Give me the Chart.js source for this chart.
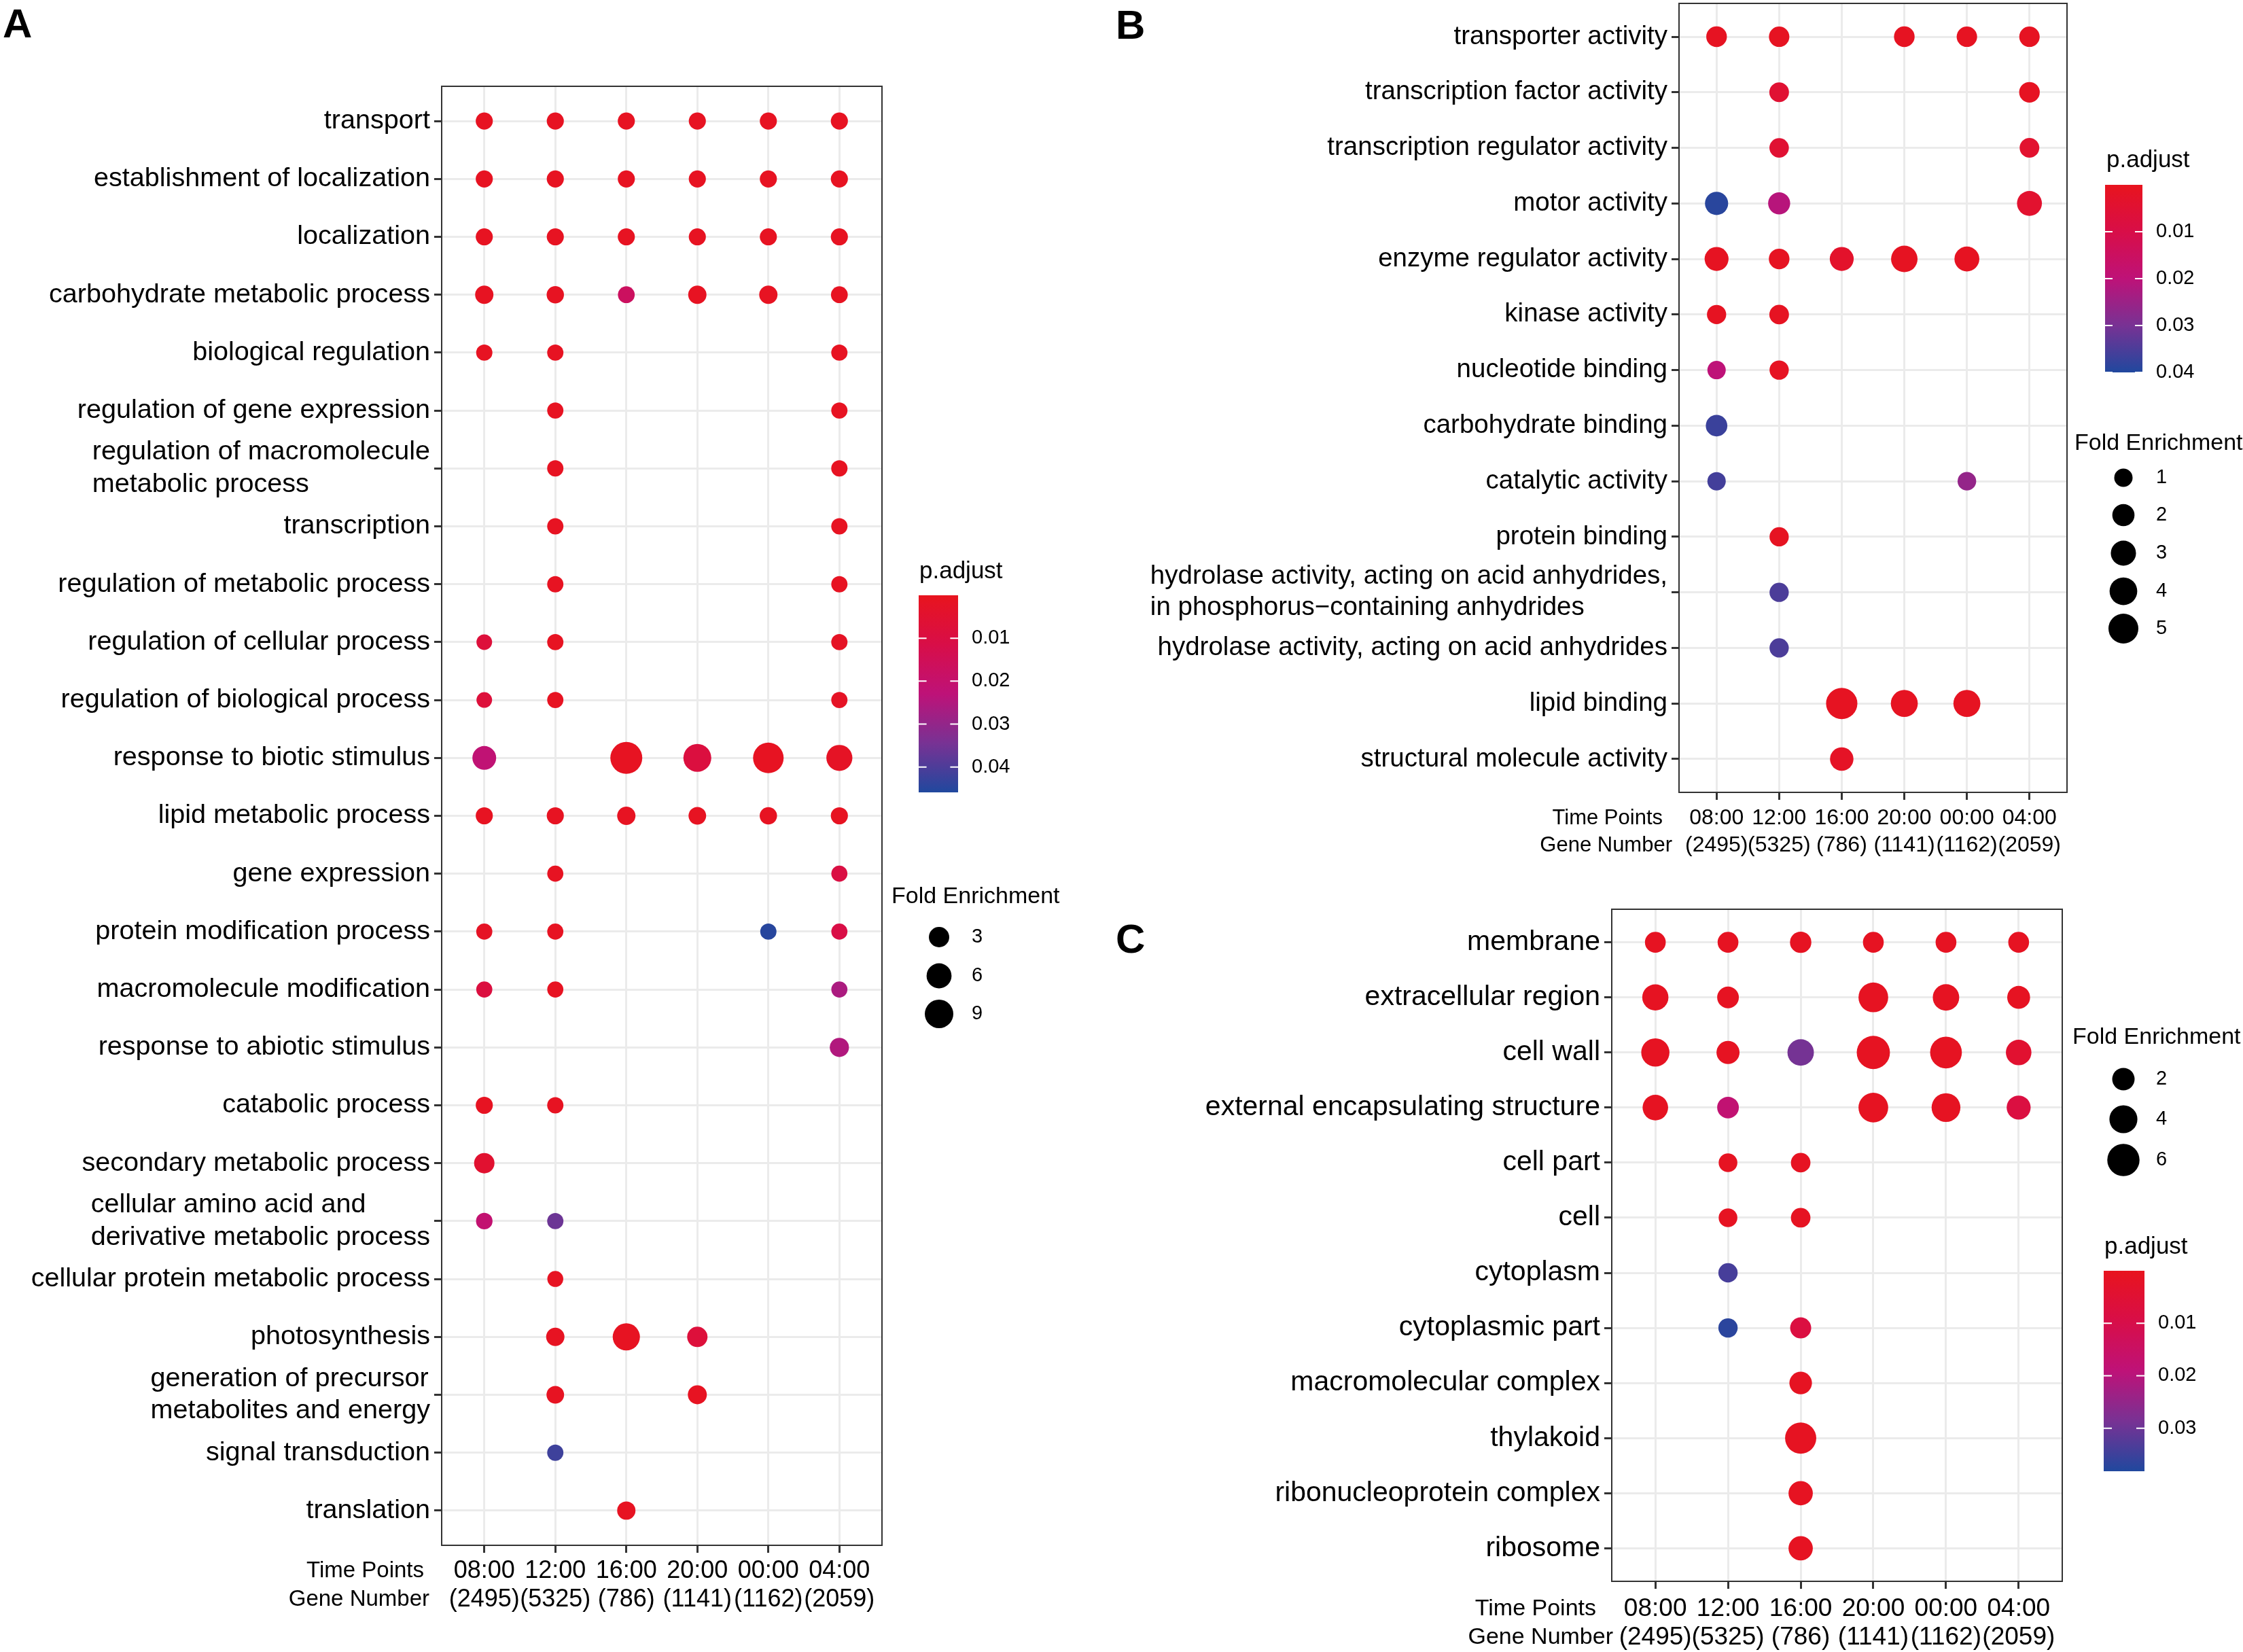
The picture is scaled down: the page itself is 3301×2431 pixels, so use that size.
<!DOCTYPE html>
<html>
<head>
<meta charset="utf-8">
<script src="https://cdn.jsdelivr.net/npm/chart.js@4.4.0/dist/chart.umd.min.js"></script>
<style>
  body { margin: 0; background: #fff; }
  #page { position: relative; width: 3301px; height: 2431px; background: #fff; overflow: hidden; }
  canvas { position: absolute; }
</style>
</head>
<body>
<div id="page">
  <canvas id="panelA" width="1640" height="2431" style="left:0;top:0"></canvas>
  <canvas id="panelB" width="1661" height="1290" style="left:1640px;top:0"></canvas>
  <canvas id="panelC" width="1661" height="1141" style="left:1640px;top:1290px"></canvas>
</div>
<script>
var FONT = '"Liberation Sans", Arial, Helvetica, sans-serif';
Chart.defaults.font.family = FONT;

var times = ['08:00', '12:00', '16:00', '20:00', '00:00', '04:00'];
var geneNumbers = [2495, 5325, 786, 1141, 1162, 2059];

// A - biological process
var termsA = [
  'transport', 'establishment of localization', 'localization', 'carbohydrate metabolic process',
  'biological regulation', 'regulation of gene expression', 'regulation of macromolecule\nmetabolic process',
  'transcription', 'regulation of metabolic process', 'regulation of cellular process',
  'regulation of biological process', 'response to biotic stimulus', 'lipid metabolic process',
  'gene expression', 'protein modification process', 'macromolecule modification',
  'response to abiotic stimulus', 'catabolic process', 'secondary metabolic process',
  'cellular amino acid and\nderivative metabolic process', 'cellular protein metabolic process',
  'photosynthesis', 'generation of precursor\nmetabolites and energy', 'signal transduction', 'translation'
];
var foldA = [
  [1.5, 1.5, 1.5, 1.5, 1.5, 1.5],
  [1.5, 1.5, 1.5, 1.5, 1.5, 1.5],
  [1.5, 1.5, 1.5, 1.5, 1.5, 1.5],
  [2.0, 1.6, 1.4, 2.0, 2.0, 1.4],
  [1.2, 1.2, null, null, null, 1.2],
  [null, 1.2, null, null, null, 1.2],
  [null, 1.2, null, null, null, 1.2],
  [null, 1.2, null, null, null, 1.2],
  [null, 1.2, null, null, null, 1.2],
  [1.0, 1.2, null, null, null, 1.2],
  [1.0, 1.2, null, null, null, 1.2],
  [5.1, null, 12.4, 8.4, 11.0, 6.8],
  [1.5, 1.5, 2.0, 1.7, 1.6, 1.5],
  [null, 1.15, null, null, null, 1.15],
  [1.15, 1.15, null, null, 1.2, 1.15],
  [1.15, 1.15, null, null, null, 1.15],
  [null, null, null, null, null, 2.4],
  [1.5, 1.2, null, null, null, null],
  [3.0, null, null, null, null, null],
  [1.3, 1.2, null, null, null, null],
  [null, 1.1, null, null, null, null],
  [null, 2.0, 7.8, 3.0, null, null],
  [null, 1.7, null, 2.3, null, null],
  [null, 1.2, null, null, null, null],
  [null, null, 2.0, null, null, null]
];
var padjA = [
  [0.001, 0.001, 0.001, 0.001, 0.001, 0.001],
  [0.001, 0.001, 0.001, 0.001, 0.001, 0.001],
  [0.001, 0.001, 0.001, 0.001, 0.001, 0.001],
  [0.001, 0.001, 0.017, 0.001, 0.001, 0.001],
  [0.001, 0.001, null, null, null, 0.001],
  [null, 0.001, null, null, null, 0.001],
  [null, 0.001, null, null, null, 0.001],
  [null, 0.001, null, null, null, 0.001],
  [null, 0.001, null, null, null, 0.001],
  [0.008, 0.001, null, null, null, 0.002],
  [0.008, 0.001, null, null, null, 0.002],
  [0.022, null, 0.001, 0.009, 0.001, 0.002],
  [0.001, 0.001, 0.001, 0.001, 0.001, 0.001],
  [null, 0.001, null, null, null, 0.010],
  [0.002, 0.001, null, null, 0.045, 0.011],
  [0.009, 0.001, null, null, null, 0.026],
  [null, null, null, null, null, 0.025],
  [0.001, 0.001, null, null, null, null],
  [0.005, null, null, null, null, null],
  [0.021, 0.036, null, null, null, null],
  [null, 0.001, null, null, null, null],
  [null, 0.001, 0.001, 0.008, null, null],
  [null, 0.001, null, 0.001, null, null],
  [null, 0.042, null, null, null, null],
  [null, null, 0.001, null, null, null]
];

// B - molecular function
var termsB = [
  'transporter activity', 'transcription factor activity', 'transcription regulator activity',
  'motor activity', 'enzyme regulator activity', 'kinase activity', 'nucleotide binding',
  'carbohydrate binding', 'catalytic activity', 'protein binding',
  'hydrolase activity, acting on acid anhydrides,\nin phosphorus\u2212containing anhydrides',
  'hydrolase activity, acting on acid anhydrides', 'lipid binding', 'structural molecule activity'
];
var foldB = [
  [1.55, 1.5, null, 1.55, 1.5, 1.5],
  [null, 1.3, null, null, null, 1.55],
  [null, 1.25, null, null, null, 1.3],
  [2.3, 1.95, null, null, null, 2.9],
  [2.55, 1.55, 2.55, 3.5, 2.9, null],
  [1.2, 1.3, null, null, null, null],
  [1.0, 1.2, null, null, null, null],
  [1.8, null, null, null, null, null],
  [1.0, null, null, null, 1.05, null],
  [null, 1.2, null, null, null, null],
  [null, 1.2, null, null, null, null],
  [null, 1.2, null, null, null, null],
  [null, null, 5.7, 3.7, 3.7, null],
  [null, null, 2.4, null, null, null]
];
var padjB = [
  [0.001, 0.001, null, 0.001, 0.001, 0.001],
  [null, 0.005, null, null, null, 0.001],
  [null, 0.005, null, null, null, 0.004],
  [0.039, 0.021, null, null, null, 0.004],
  [0.001, 0.001, 0.003, 0.001, 0.001, null],
  [0.001, 0.001, null, null, null, null],
  [0.020, 0.001, null, null, null, null],
  [0.037, null, null, null, null, null],
  [0.036, null, null, null, 0.026, null],
  [null, 0.001, null, null, null, null],
  [null, 0.035, null, null, null, null],
  [null, 0.035, null, null, null, null],
  [null, null, 0.001, 0.001, 0.001, null],
  [null, null, 0.002, null, null, null]
];

// C - cellular component
var termsC = [
  'membrane', 'extracellular region', 'cell wall', 'external encapsulating structure', 'cell part',
  'cell', 'cytoplasm', 'cytoplasmic part', 'macromolecular complex', 'thylakoid',
  'ribonucleoprotein complex', 'ribosome'
];
var foldC = [
  [1.54, 1.54, 1.7, 1.54, 1.54, 1.54],
  [3.27, 1.78, null, 4.75, 3.37, 2.14],
  [4.1, 2.2, 3.37, 6.5, 5.75, 3.04],
  [3.04, 1.78, null, 4.75, 4.35, 2.5],
  [null, 1.05, 1.24, null, null, null],
  [null, 1.05, 1.24, null, null, null],
  [null, 1.18, null, null, null, null],
  [null, 1.18, 1.62, null, null, null],
  [null, null, 2.04, null, null, null],
  [null, null, 5.45, null, null, null],
  [null, null, 2.6, null, null, null],
  [null, null, 2.6, null, null, null]
];
var padjC = [
  [0.001, 0.001, 0.001, 0.001, 0.001, 0.001],
  [0.001, 0.001, null, 0.001, 0.001, 0.001],
  [0.001, 0.001, 0.029, 0.001, 0.001, 0.004],
  [0.001, 0.018, null, 0.001, 0.001, 0.008],
  [null, 0.001, 0.001, null, null, null],
  [null, 0.001, 0.001, null, null, null],
  [null, 0.034, null, null, null, null],
  [null, 0.037, 0.008, null, null, null],
  [null, null, 0.001, null, null, null],
  [null, null, 0.001, null, null, null],
  [null, null, 0.001, null, null, null],
  [null, null, 0.001, null, null, null]
];

// red -> blue, like the ggplot gradient in the figure
var padjStops = [
  [0.00, [232, 20, 30]],
  [0.25, [216, 14, 72]],
  [0.50, [190, 18, 120]],
  [0.75, [120, 50, 148]],
  [1.00, [32, 72, 158]]
];
function padjColor(t) {
  t = Math.max(0, Math.min(1, t));
  for (var i = 1; i < padjStops.length; i++) {
    if (t <= padjStops[i][0]) {
      var a = padjStops[i - 1], b = padjStops[i];
      var f = (t - a[0]) / (b[0] - a[0]);
      var c = a[1].map(function (v, k) { return Math.round(v + (b[1][k] - v) * f); });
      return 'rgb(' + c.join(',') + ')';
    }
  }
  return 'rgb(32,72,158)';
}

function legendDecor(cfg) {
  return {
    id: 'decor' + cfg.letter,
    afterDraw: function (chart) {
      var ctx = chart.ctx, area = chart.chartArea, ys = chart.scales.y;
      ctx.save();
      // panel border
      ctx.strokeStyle = '#333';
      ctx.lineWidth = 2;
      ctx.strokeRect(area.left, area.top, area.right - area.left, area.bottom - area.top);

      // y labels: block right aligned, lines left aligned
      ctx.fillStyle = '#000';
      ctx.font = cfg.yFont + 'px ' + FONT;
      ctx.textBaseline = 'middle';
      ctx.textAlign = 'left';
      var lh = cfg.yFont * 1.2;
      cfg.terms.forEach(function (term, i) {
        var lines = term.split('\n');
        var w = Math.max.apply(null, lines.map(function (l) { return ctx.measureText(l).width; }));
        var x = area.left - 17 - w;
        var yc = ys.getPixelForValue(i);
        lines.forEach(function (l, k) {
          ctx.fillText(l, x, yc + (k - (lines.length - 1) / 2) * lh);
        });
      });

      // x axis titles
      ctx.font = cfg.titleFont + 'px ' + FONT;
      ctx.textAlign = 'right';
      var ym = area.bottom + 11 + cfg.xPad + cfg.xLine / 2;
      ctx.fillText('Time Points', area.left + cfg.tpDx, ym);
      ctx.fillText('Gene Number', area.left + cfg.gnDx, ym + cfg.xLine);

      // panel letter
      ctx.font = 'bold 60px ' + FONT;
      ctx.textAlign = 'left';
      ctx.textBaseline = 'alphabetic';
      ctx.fillText(cfg.letter, cfg.letterPos[0], cfg.letterPos[1]);

      // p.adjust colour bar
      var cb = cfg.colorbar;
      ctx.font = '35px ' + FONT;
      ctx.fillText('p.adjust', cb.titleX, cb.titleY);
      var g = ctx.createLinearGradient(0, cb.y, 0, cb.y + cb.h);
      padjStops.forEach(function (s) { g.addColorStop(s[0], 'rgb(' + s[1].join(',') + ')'); });
      ctx.fillStyle = g;
      ctx.fillRect(cb.x, cb.y, cb.w, cb.h);
      ctx.strokeStyle = '#fff';
      ctx.lineWidth = 2;
      ctx.font = '29px ' + FONT;
      ctx.textBaseline = 'middle';
      cb.ticks.forEach(function (p) {
        var ty = cb.y + p / cfg.pmax * cb.h;
        ctx.beginPath();
        ctx.moveTo(cb.x, ty); ctx.lineTo(cb.x + cb.w * 0.2, ty);
        ctx.moveTo(cb.x + cb.w * 0.8, ty); ctx.lineTo(cb.x + cb.w, ty);
        ctx.stroke();
        ctx.fillStyle = '#000';
        ctx.fillText(p.toFixed(2), cb.x + cb.w + 20, ty);
      });

      // fold enrichment size keys
      var sk = cfg.sizeKey;
      ctx.fillStyle = '#000';
      ctx.textBaseline = 'alphabetic';
      ctx.font = '34px ' + FONT;
      ctx.fillText('Fold Enrichment', sk.titleX, sk.titleY);
      ctx.font = '29px ' + FONT;
      ctx.textBaseline = 'middle';
      sk.values.forEach(function (v, i) {
        ctx.beginPath();
        ctx.arc(sk.x, sk.ys[i], cfg.size(v) / 2, 0, Math.PI * 2);
        ctx.fill();
        ctx.fillText(String(v), sk.x + 48, sk.ys[i]);
      });
      ctx.restore();
    }
  };
}

function makePanel(id, cfg) {
  var points = [];
  cfg.terms.forEach(function (term, i) {
    cfg.fold[i].forEach(function (f, j) {
      if (f == null) return;
      points.push({ x: j, y: i, r: cfg.size(f) / 2, p: cfg.padj[i][j] });
    });
  });
  var n = cfg.terms.length;
  return new Chart(document.getElementById(id), {
    type: 'bubble',
    data: {
      datasets: [{
        data: points,
        backgroundColor: function (c) { return padjColor(c.raw.p / cfg.pmax); },
        borderWidth: 0,
        hoverBorderWidth: 0,
        hoverRadius: 0
      }]
    },
    options: {
      responsive: false,
      animation: false,
      devicePixelRatio: 1,
      events: [],
      layout: { padding: cfg.padding, autoPadding: false },
      plugins: { legend: { display: false }, tooltip: { enabled: false } },
      scales: {
        x: {
          type: 'linear',
          position: 'bottom',
          min: -0.6,
          max: 5.6,
          afterBuildTicks: function (s) { s.ticks = times.map(function (t, i) { return { value: i }; }); },
          afterFit: function (s) { s.height = cfg.xAxisH; },
          ticks: {
            autoSkip: false,
            maxRotation: 0,
            minRotation: 0,
            padding: cfg.xPad,
            color: '#000',
            font: { size: cfg.xFont, lineHeight: cfg.xLine / cfg.xFont },
            callback: function (v) { return [times[v], '(' + geneNumbers[v] + ')']; }
          },
          grid: { color: '#EBEBEB', lineWidth: 3, tickColor: '#333', tickLength: 11, tickWidth: 3 },
          border: { display: false }
        },
        y: {
          type: 'linear',
          position: 'left',
          reverse: true,
          min: -0.6,
          max: n - 0.4,
          afterBuildTicks: function (s) { s.ticks = cfg.terms.map(function (t, i) { return { value: i }; }); },
          afterFit: function (s) { s.width = cfg.yAxisW; },
          ticks: { display: false },
          grid: { color: '#EBEBEB', lineWidth: 3, tickColor: '#333', tickLength: 11, tickWidth: 3 },
          border: { display: false }
        }
      }
    },
    plugins: [legendDecor(cfg)]
  });
}

makePanel('panelA', {
  letter: 'A', letterPos: [4, 55],
  terms: termsA, fold: foldA, padj: padjA, pmax: 0.0459,
  size: function (v) { return 13.5 + 9.5 * Math.sqrt(v); },
  padding: { top: 127, right: 342, bottom: 0, left: 0 },
  yAxisW: 650, xAxisH: 157, yFont: 39.6,
  xFont: 36, xLine: 42, xPad: 6, titleFont: 33, tpDx: -26, gnDx: -18,
  colorbar: { titleX: 1353, titleY: 851, x: 1352, y: 876, w: 58, h: 290, ticks: [0.01, 0.02, 0.03, 0.04] },
  sizeKey: { titleX: 1312, titleY: 1329, x: 1382, ys: [1379, 1436, 1492], values: [3, 6, 9] }
});

makePanel('panelB', {
  letter: 'B', letterPos: [2, 57],
  terms: termsB, fold: foldB, padj: padjB, pmax: 0.040,
  size: function (v) { return 13.25 + 13.75 * Math.sqrt(v); },
  padding: { top: 5, right: 259, bottom: 0, left: 0 },
  yAxisW: 831, xAxisH: 124, yFont: 38.5,
  xFont: 32, xLine: 40, xPad: 7, titleFont: 31, tpDx: -24, gnDx: -10,
  colorbar: { titleX: 1460, titleY: 246, x: 1458, y: 272, w: 55, h: 276, ticks: [0.01, 0.02, 0.03, 0.04] },
  sizeKey: { titleX: 1413, titleY: 662, x: 1485, ys: [703, 758, 814, 870, 925], values: [1, 2, 3, 4, 5] }
});

makePanel('panelC', {
  letter: 'C', letterPos: [2, 112],
  terms: termsC, fold: foldC, padj: padjC, pmax: 0.0382,
  size: function (v) { return 13.2 + 14 * Math.sqrt(v); },
  padding: { top: 48, right: 266, bottom: 0, left: 0 },
  yAxisW: 732, xAxisH: 104, yFont: 41,
  xFont: 37, xLine: 42, xPad: 9, titleFont: 34, tpDx: -23, gnDx: 2,
  colorbar: { titleX: 1457, titleY: 555, x: 1456, y: 580, w: 60, h: 295, ticks: [0.01, 0.02, 0.03] },
  sizeKey: { titleX: 1410, titleY: 246, x: 1485, ys: [298, 357, 417], values: [2, 4, 6] }
});
</script>
</body>
</html>
